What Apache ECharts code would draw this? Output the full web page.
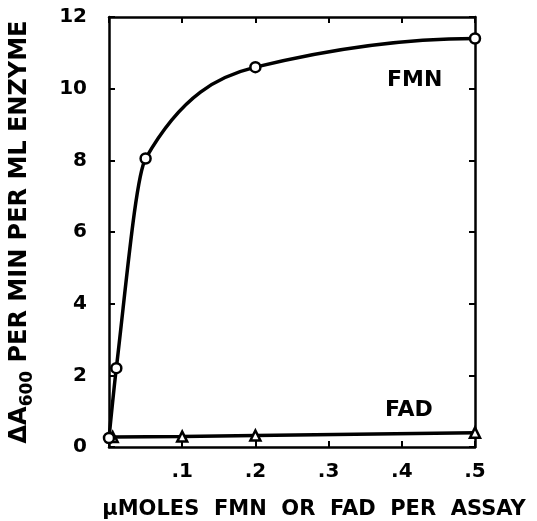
<!DOCTYPE html>
<html>
<head>
<meta charset="utf-8">
<script src="https://cdn.jsdelivr.net/npm/echarts@6/dist/echarts.min.js"></script>
<style>
  html, body { margin: 0; padding: 0; background: #fff; }
  #main { width: 537px; height: 521px; }
</style>
</head>
<body>
<div id="main"></div>
<script>
// µmoles FMN or FAD per assay vs ΔA600
var fmnX = [0, 0.01, 0.05, 0.2, 0.5];
var fmnY = [0.25, 2.2, 8.05, 10.6, 11.4];
var fadX = [0.005, 0.1, 0.2, 0.5];
var fadY = [0.28, 0.29, 0.32, 0.4];
var xTicks = ['', '.1', '.2', '.3', '.4', '.5'];

var font = 'DejaVu Sans';

function pairs(xs, ys) {
    return xs.map(function (x, i) { return [x, ys[i]]; });
}

// monotone cubic (PCHIP) tangents, used to draw the hand-drawn looking curve
function pchipSlopes(xs, ys) {
    var n = xs.length, h = [], s = [], m = [];
    for (var i = 0; i < n - 1; i++) {
        h.push(xs[i + 1] - xs[i]);
        s.push((ys[i + 1] - ys[i]) / h[i]);
    }
    for (var k = 1; k < n - 1; k++) {
        if (s[k - 1] * s[k] <= 0) { m[k] = 0; continue; }
        var w1 = 2 * h[k] + h[k - 1], w2 = h[k] + 2 * h[k - 1];
        m[k] = (w1 + w2) / (w1 / s[k - 1] + w2 / s[k]);
    }
    function end(h0, h1, s0, s1) {
        var d = ((2 * h0 + h1) * s0 - h0 * s1) / (h0 + h1);
        if (d * s0 <= 0) return 0;
        if (s0 * s1 <= 0 && Math.abs(d) > 3 * Math.abs(s0)) return 3 * s0;
        return d;
    }
    m[0] = end(h[0], h[1], s[0], s[1]);
    m[n - 1] = end(h[n - 2], h[n - 3], s[n - 2], s[n - 3]);
    return m;
}

var fmnSlopes = pchipSlopes(fmnX, fmnY);

var myChart = echarts.init(document.getElementById('main'));

function tick() { return { show: true, inside: true, length: 6, lineStyle: { color: '#000', width: 2 } }; }
function axLine() { return { show: true, onZero: false, lineStyle: { color: '#000', width: 2.5 } }; }

myChart.setOption({
    animation: false,
    grid: { left: 109, right: 62, top: 17, bottom: 74, containLabel: false, outerBoundsMode: 'none' },
    xAxis: [
        {
            type: 'value', min: 0, max: 0.5, interval: 0.1,
            axisLine: axLine(), axisTick: tick(), splitLine: { show: false },
            axisLabel: {
                margin: 15, color: '#000', fontFamily: font, fontWeight: 'bold', fontSize: 20,
                formatter: function (v) { return xTicks[Math.round(v * 10)]; }
            },
            name: 'μMOLES  FMN  OR  FAD  PER  ASSAY',
            nameLocation: 'middle', nameGap: 52,
            nameTextStyle: { color: '#000', fontFamily: font, fontWeight: 'bold', fontSize: 21, padding: [0, 0, 0, 44] }
        },
        {
            type: 'value', position: 'top', min: 0, max: 0.5, interval: 0.1,
            axisLine: axLine(), axisTick: tick(), axisLabel: { show: false }, splitLine: { show: false }
        }
    ],
    yAxis: [
        {
            type: 'value', min: 0, max: 12, interval: 2,
            axisLine: axLine(), axisTick: tick(), splitLine: { show: false },
            axisLabel: { margin: 22, color: '#000', fontFamily: font, fontWeight: 'bold', fontSize: 20 },
            name: '{a|ΔA}{s|600}{a| PER MIN PER ML ENZYME}',
            nameLocation: 'middle', nameRotate: 90, nameGap: 73,
            nameTextStyle: {
                rich: {
                    a: { color: '#000', fontFamily: font, fontWeight: 'bold', fontSize: 24, lineHeight: 32, verticalAlign: 'middle' },
                    s: { color: '#000', fontFamily: font, fontWeight: 'bold', fontSize: 17, lineHeight: 17, verticalAlign: 'bottom' }
                }
            }
        },
        {
            type: 'value', position: 'right', min: 0, max: 12, interval: 2,
            axisLine: axLine(), axisTick: tick(), axisLabel: { show: false }, splitLine: { show: false }
        }
    ],
    series: [
        {
            name: 'FMN curve', type: 'custom', data: [0], silent: true, z: 2,
            renderItem: function (params, api) {
                var children = [];
                for (var i = 0; i < fmnX.length - 1; i++) {
                    var h = fmnX[i + 1] - fmnX[i];
                    var p0 = api.coord([fmnX[i], fmnY[i]]);
                    var c1 = api.coord([fmnX[i] + h / 3, fmnY[i] + fmnSlopes[i] * h / 3]);
                    var c2 = api.coord([fmnX[i + 1] - h / 3, fmnY[i + 1] - fmnSlopes[i + 1] * h / 3]);
                    var p1 = api.coord([fmnX[i + 1], fmnY[i + 1]]);
                    children.push({
                        type: 'bezierCurve',
                        shape: { x1: p0[0], y1: p0[1], cpx1: c1[0], cpy1: c1[1], cpx2: c2[0], cpy2: c2[1], x2: p1[0], y2: p1[1] },
                        style: { stroke: '#000', lineWidth: 3.5, fill: null }
                    });
                }
                return { type: 'group', children: children };
            }
        },
        {
            name: 'FMN', type: 'scatter', data: pairs(fmnX, fmnY),
            symbol: 'circle', symbolSize: 10,
            itemStyle: { color: '#fff', borderColor: '#000', borderWidth: 2.5, opacity: 1 },
            z: 4
        },
        {
            name: 'FAD', type: 'line', data: pairs(fadX, fadY),
            symbol: 'triangle', symbolSize: 10,
            lineStyle: { color: '#000', width: 3.5 },
            itemStyle: { color: '#fff', borderColor: '#000', borderWidth: 2.5 },
            z: 3
        }
    ],
    graphic: [
        { type: 'text', left: 387, top: 69, style: { text: 'FMN', fill: '#000', font: 'bold 22px "DejaVu Sans"' } },
        { type: 'text', left: 385, top: 399, style: { text: 'FAD', fill: '#000', font: 'bold 22px "DejaVu Sans"' } }
    ]
});
</script>
</body>
</html>
